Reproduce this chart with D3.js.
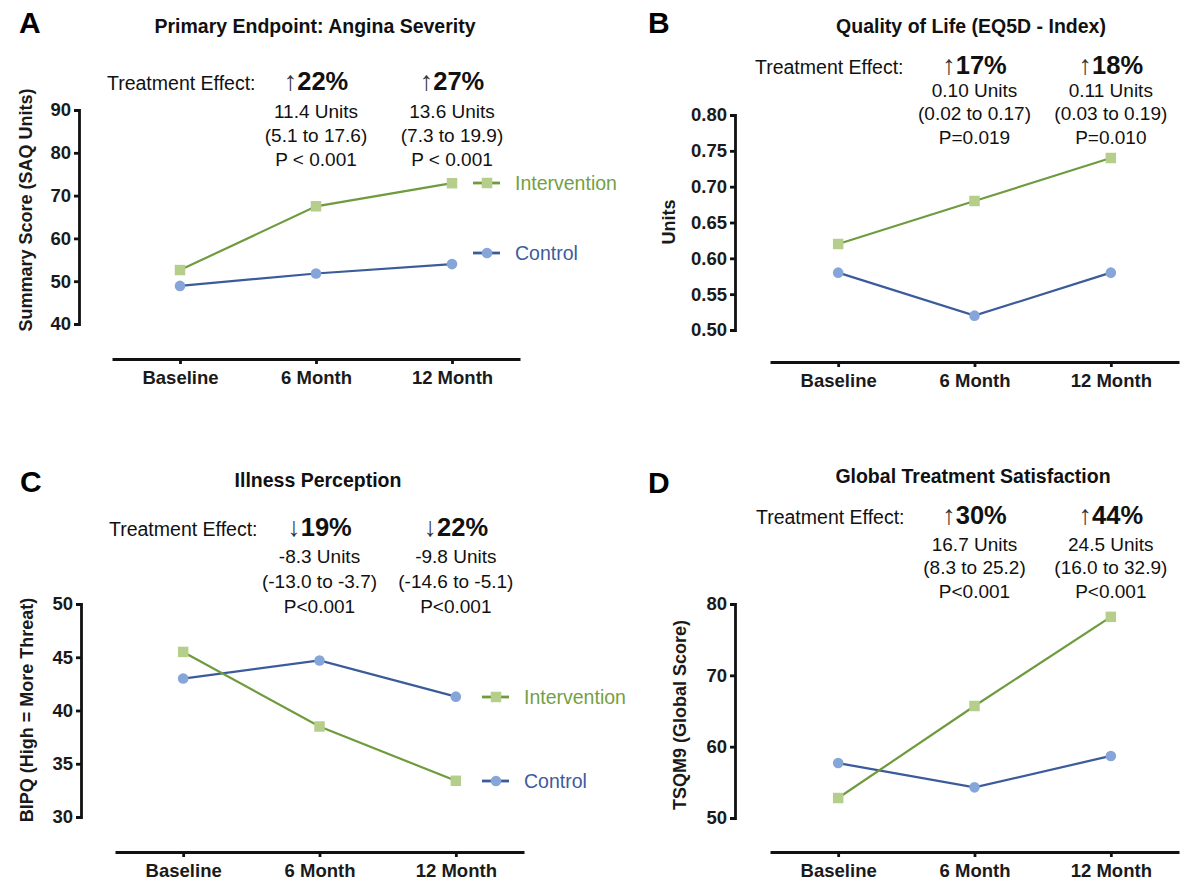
<!DOCTYPE html>
<html>
<head>
<meta charset="utf-8">
<script src="https://cdn.jsdelivr.net/npm/d3@7"></script>
<style>
  body { margin: 0; background: #fff; }
  svg { display: block; font-family: "Liberation Sans", Arial, Helvetica, sans-serif; }
  .axis path, .axis line { stroke: #111; stroke-width: 2.8; }
  .axis text { font-size: 18.5px; font-weight: bold; fill: #1a1a1a; font-family: "Liberation Sans", Arial, sans-serif; }
</style>
</head>
<body>
<div id="chart"></div>
<script>
// Four panels: intervention vs control over follow-up
const timepoints = ["Baseline", "6 Month", "12 Month"];

const anginaIntervention = [52.6, 67.5, 72.9];
const anginaControl = [48.9, 51.8, 54.0];
const qolIntervention = [0.62, 0.68, 0.74];
const qolControl = [0.58, 0.52, 0.58];
const ipqIntervention = [45.5, 38.5, 33.4];
const ipqControl = [43.0, 44.7, 41.3];
const tsqmIntervention = [52.8, 65.7, 78.2];
const tsqmControl = [57.7, 54.3, 58.7];

const anginaTicks = [40, 50, 60, 70, 80, 90];
const qolTicks = [0.50, 0.55, 0.60, 0.65, 0.70, 0.75, 0.80];
const ipqTicks = [30, 35, 40, 45, 50];
const tsqmTicks = [50, 60, 70, 80];

// treatment effect at 6 and 12 months: arrow, percent, then three lines
const anginaEffects = [
    ["↑", "22%", "11.4 Units", "(5.1 to 17.6)", "P < 0.001"],
    ["↑", "27%", "13.6 Units", "(7.3 to 19.9)", "P < 0.001"]
];
const qolEffects = [
    ["↑", "17%", "0.10 Units", "(0.02 to 0.17)", "P=0.019"],
    ["↑", "18%", "0.11 Units", "(0.03 to 0.19)", "P=0.010"]
];
const ipqEffects = [
    ["↓", "19%", "-8.3 Units", "(-13.0 to -3.7)", "P<0.001"],
    ["↓", "22%", "-9.8 Units", "(-14.6 to -5.1)", "P<0.001"]
];
const tsqmEffects = [
    ["↑", "30%", "16.7 Units", "(8.3 to 25.2)", "P<0.001"],
    ["↑", "44%", "24.5 Units", "(16.0 to 32.9)", "P<0.001"]
];

const greenLine = "#6f9b3e", greenFill = "#b6ce8b", greenText = "#74a044";
const blueLine = "#3b5b9b", blueFill = "#86a5d9", blueText = "#3d5c9c";

const panels = [
    { letter: "A", title: "Primary Endpoint: Angina Severity", yLabel: "Summary Score (SAQ Units)",
      inter: anginaIntervention, ctrl: anginaControl, ticks: anginaTicks, fmt: d3.format("d"), effects: anginaEffects,
      yAxisX: 79, yTop: 110, yBottom: 324, xLeft: 112, xRight: 520, xAxisY: 359,
      letterPos: [19, 33], titlePos: [315, 33], yLabelPos: [26, 210],
      teX: 107, pctY: 90, lineY: [118, 142, 166], legend: { x: 473, y: [183, 253] } },
    { letter: "B", title: "Quality of Life (EQ5D - Index)", yLabel: "Units",
      inter: qolIntervention, ctrl: qolControl, ticks: qolTicks, fmt: d3.format(".2f"), effects: qolEffects,
      yAxisX: 735, yTop: 115, yBottom: 330, xLeft: 770, xRight: 1179, xAxisY: 362,
      letterPos: [648, 33], titlePos: [971, 33], yLabelPos: [669, 222],
      teX: 755, pctY: 74, lineY: [97, 120, 144], legend: null },
    { letter: "C", title: "Illness Perception", yLabel: "BIPQ (High = More Threat)",
      inter: ipqIntervention, ctrl: ipqControl, ticks: ipqTicks, fmt: d3.format("d"), effects: ipqEffects,
      yAxisX: 81, yTop: 604, yBottom: 817, xLeft: 115, xRight: 524, xAxisY: 852,
      letterPos: [20, 492], titlePos: [318, 487], yLabelPos: [27, 710],
      teX: 109, pctY: 536, lineY: [563, 588, 613], legend: { x: 482, y: [697, 781] } },
    { letter: "D", title: "Global Treatment Satisfaction", yLabel: "TSQM9 (Global Score)",
      inter: tsqmIntervention, ctrl: tsqmControl, ticks: tsqmTicks, fmt: d3.format("d"), effects: tsqmEffects,
      yAxisX: 735, yTop: 604, yBottom: 818, xLeft: 770, xRight: 1179, xAxisY: 852,
      letterPos: [648, 493], titlePos: [973, 483], yLabelPos: [680, 715],
      teX: 756, pctY: 524, lineY: [551, 574, 598], legend: null }
];

const svg = d3.select("#chart")
    .append("svg")
    .attr("width", 1191)
    .attr("height", 884);

panels.forEach(p => {
    const g = svg.append("g");
    const x = d3.scalePoint().domain(timepoints).range([p.xLeft, p.xRight]).padding(0.5);
    const y = d3.scaleLinear().domain(d3.extent(p.ticks)).range([p.yBottom, p.yTop]);

    // axes
    g.append("g")
        .attr("class", "axis")
        .attr("transform", `translate(${p.yAxisX},0)`)
        .call(d3.axisLeft(y).tickValues(p.ticks).tickFormat(p.fmt).tickSize(5).tickPadding(3))
        .attr("font-size", null).attr("font-family", null);

    g.append("g")
        .attr("class", "axis")
        .attr("transform", `translate(0,${p.xAxisY})`)
        .call(d3.axisBottom(x).tickSize(5).tickSizeOuter(0).tickPadding(7))
        .attr("font-size", null).attr("font-family", null);

    // panel letter, title, y label
    g.append("text")
        .attr("x", p.letterPos[0]).attr("y", p.letterPos[1])
        .attr("font-size", 30).attr("font-weight", "bold")
        .text(p.letter);

    g.append("text")
        .attr("x", p.titlePos[0]).attr("y", p.titlePos[1])
        .attr("text-anchor", "middle")
        .attr("font-size", 19.5).attr("font-weight", "bold").attr("fill", "#111")
        .text(p.title);

    g.append("text")
        .attr("transform", `translate(${p.yLabelPos[0]},${p.yLabelPos[1]}) rotate(-90)`)
        .attr("text-anchor", "middle")
        .attr("dominant-baseline", "central")
        .attr("font-size", 18).attr("font-weight", "bold").attr("fill", "#1a1a1a")
        .text(p.yLabel);

    // treatment effect block
    g.append("text")
        .attr("x", p.teX).attr("y", p.pctY)
        .attr("font-size", 19.5).attr("fill", "#111")
        .text("Treatment Effect:");

    p.effects.forEach((e, i) => {
        const cx = x(timepoints[i + 1]);
        const pct = g.append("text")
            .attr("x", cx).attr("y", p.pctY)
            .attr("text-anchor", "middle")
            .attr("fill", "#111");
        pct.append("tspan").attr("font-size", 27).attr("fill", "#333").text(e[0]);
        pct.append("tspan").attr("font-size", 25.5).attr("font-weight", "bold").text(e[1]);

        e.slice(2).forEach((line, j) => {
            g.append("text")
                .attr("x", cx).attr("y", p.lineY[j])
                .attr("text-anchor", "middle")
                .attr("font-size", 19).attr("fill", "#111")
                .text(line);
        });
    });

    // series
    const line = d3.line()
        .x((d, i) => x(timepoints[i]))
        .y(d => y(d));

    g.append("path")
        .datum(p.ctrl)
        .attr("fill", "none")
        .attr("stroke", blueLine)
        .attr("stroke-width", 2.2)
        .attr("d", line);

    g.append("path")
        .datum(p.inter)
        .attr("fill", "none")
        .attr("stroke", greenLine)
        .attr("stroke-width", 2.2)
        .attr("d", line);

    g.selectAll(".ctrl-pt")
        .data(p.ctrl)
        .enter().append("circle")
        .attr("class", "ctrl-pt")
        .attr("cx", (d, i) => x(timepoints[i]))
        .attr("cy", d => y(d))
        .attr("r", 5.3)
        .attr("fill", blueFill);

    const sq = d3.symbol().type(d3.symbolSquare).size(110);
    g.selectAll(".int-pt")
        .data(p.inter)
        .enter().append("path")
        .attr("class", "int-pt")
        .attr("transform", (d, i) => `translate(${x(timepoints[i])},${y(d)})`)
        .attr("d", sq)
        .attr("fill", greenFill);

    // legend
    if (p.legend) {
        const items = [
            { name: "Intervention", stroke: greenLine, fill: greenFill, text: greenText, square: true },
            { name: "Control", stroke: blueLine, fill: blueFill, text: blueText, square: false }
        ];
        items.forEach((it, k) => {
            const ly = p.legend.y[k];
            const lg = g.append("g").attr("transform", `translate(${p.legend.x},${ly})`);
            lg.append("line")
                .attr("x1", 0).attr("x2", 27)
                .attr("stroke", it.stroke).attr("stroke-width", 2.8);
            if (it.square) {
                lg.append("path").attr("transform", "translate(14,0)").attr("d", sq).attr("fill", it.fill);
            } else {
                lg.append("circle").attr("cx", 14).attr("r", 5.3).attr("fill", it.fill);
            }
            lg.append("text")
                .attr("x", 42).attr("y", 0)
                .attr("dominant-baseline", "central")
                .attr("font-size", 19.5)
                .attr("fill", it.text)
                .text(it.name);
        });
    }
});
</script>
</body>
</html>
